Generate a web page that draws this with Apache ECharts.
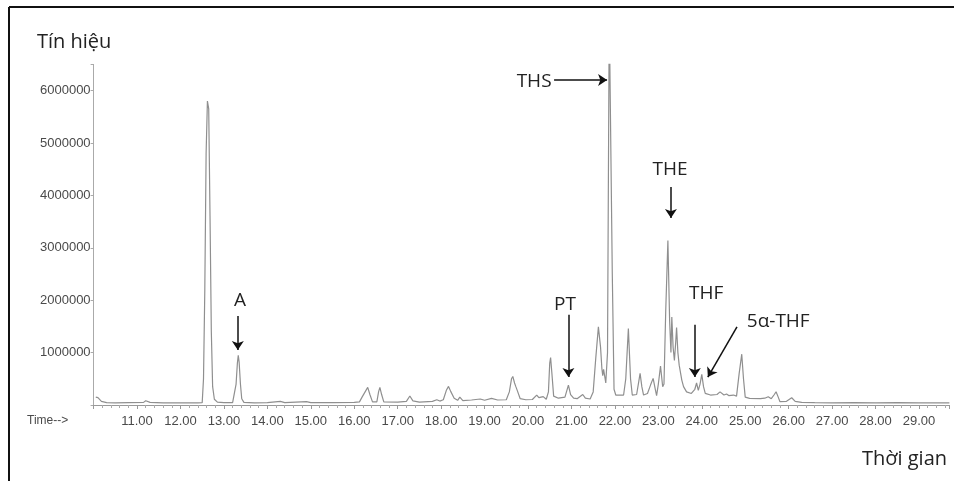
<!DOCTYPE html>
<html><head><meta charset="utf-8">
<script src="https://cdn.jsdelivr.net/npm/echarts@6/dist/echarts.min.js"></script>
<style>html,body{margin:0;padding:0;background:#fff}#c{width:954px;height:481px}</style>
</head><body><div id="c"></div>
<script>
// Retention time (min)
const times = [
 10.05,10.10,10.18,10.30,10.50,10.80,11.15,11.20,11.30,11.60,12.00,12.40,
 12.50,12.53,12.56,12.59,12.62,12.65,12.68,12.71,12.74,12.78,12.85,13.00,
 13.20,13.24,13.28,13.31,13.33,13.35,13.38,13.41,13.46,13.70,14.00,14.30,14.40,14.90,15.00,15.50,
 16.00,16.12,16.18,16.22,16.27,16.31,16.36,16.42,16.52,16.56,16.59,16.63,16.68,
 17.00,17.20,17.28,17.35,17.50,17.80,17.90,17.97,18.05,18.12,18.17,18.22,18.30,18.38,18.43,18.50,
 18.70,18.90,19.00,19.16,19.30,19.50,19.57,19.62,19.65,19.69,19.72,19.76,19.82,19.95,
 20.10,20.20,20.25,20.35,20.42,20.47,20.50,20.52,20.55,20.59,20.70,20.85,20.93,20.98,
 21.05,21.08,21.13,21.26,21.32,21.43,21.50,21.56,21.62,21.67,21.70,21.72,21.74,21.79,21.83,
 21.87,21.90,21.94,21.98,22.02,22.20,22.25,22.31,22.36,22.40,22.50,22.55,22.58,22.62,22.66,
 22.75,22.82,22.88,22.93,22.96,23.00,23.05,23.10,23.13,23.17,23.22,23.26,23.29,23.31,23.34,
 23.37,23.40,23.42,23.45,23.48,23.54,23.58,23.65,23.76,23.84,23.88,23.92,23.96,24.00,24.04,
 24.08,24.20,24.35,24.42,24.46,24.51,24.57,24.62,24.73,24.80,24.86,24.92,24.96,25.00,25.10,
 25.35,25.45,25.53,25.60,25.67,25.71,25.76,25.80,25.95,26.07,26.15,26.30,26.60,27.00,27.50,
 28.00,28.50,29.00,29.70
];
// Detector signal (abundance)
const signal = [
 150000,140000,70000,45000,40000,45000,50000,80000,50000,42000,40000,42000,
 45000,500000,2200000,4800000,5800000,5650000,3600000,1400000,350000,110000,55000,45000,
 45000,80000,400000,800000,950000,820000,400000,120000,50000,42000,45000,70000,45000,65000,45000,45000,
 50000,60000,150000,160000,280000,336000,200000,60000,60000,250000,336000,200000,60000,
 55000,70000,171000,80000,55000,70000,100000,75000,100000,280000,355000,260000,130000,90000,150000,85000,
 95000,114000,90000,127000,95000,100000,250000,500000,545000,420000,350000,260000,120000,100000,
 105000,190000,140000,160000,110000,250000,800000,905000,600000,170000,130000,150000,380000,200000,
 130000,160000,120000,200000,130000,114000,250000,900000,1490000,1100000,700000,560000,680000,420000,1000000,
 7500000,7500000,2500000,300000,190000,190000,500000,1460000,500000,190000,200000,450000,603000,350000,190000,
 220000,380000,508000,300000,180000,400000,741000,348000,400000,1800000,3140000,1600000,1000000,1680000,1100000,
 850000,1200000,1480000,1000000,760000,475000,350000,250000,220000,300000,420000,280000,400000,583000,350000,
 222000,190000,200000,250000,285000,190000,209000,180000,190000,170000,600000,970000,500000,150000,127000,
 120000,130000,158000,120000,200000,253000,150000,63000,70000,139000,70000,50000,45000,42000,45000,
 42000,44000,42000,42000
];
const yTickValues = [1000000,2000000,3000000,4000000,5000000,6000000];
const xTickValues = [11,12,13,14,15,16,17,18,19,20,21,22,23,24,25,26,27,28,29];
// Annotations: text position and arrow (data coordinates)
const annTexts = [
 {text:'A',     t:13.37, v:1985000},
 {text:'PT',    t:20.85, v:1910000},
 {text:'THS',   t:20.14, v:6180000},
 {text:'THE',   t:23.27, v:4485000},
 {text:'THF',   t:24.10, v:2120000},
 {text:'5α-THF',t:25.76, v:1600000}
];
const annArrows = [
 [[13.32,1700000],[13.32,1050000]],
 [[20.93,1720000],[20.93,534000]],
 [[20.60,6200000],[21.82,6200000]],
 [[23.29,4160000],[23.29,3570000]],
 [[23.84,1530000],[23.84,534000]],
 [[24.81,1490000],[24.14,534000]]
];

const chart = echarts.init(document.getElementById('c'), null, {renderer:'canvas'});
const pts = times.map((t,i)=>[t, signal[i]]);
const annFont = '"Open Sans", sans-serif';
chart.setOption({
  animation:false,
  backgroundColor:'#fff',
  grid:{left:93.6, right:4.6, top:64.4, bottom:76},
  xAxis:{
    type:'value', min:10, max:29.7, interval:1,
    axisLine:{lineStyle:{color:'#999', width:1}},
    axisTick:{show:true, length:4, inside:false, lineStyle:{color:'#999'}},
    minorTick:{show:true, splitNumber:5, length:3, lineStyle:{color:'#aaa'}},
    splitLine:{show:false},
    axisLabel:{
      margin:10, color:'#4a4a4a', fontSize:13, fontFamily:'"Liberation Sans", Arial, sans-serif',
      formatter:(v)=> xTickValues.some(x=>Math.abs(x-v)<1e-6) ? v.toFixed(2) : ''
    }
  },
  yAxis:{
    type:'value', min:0, max:6500000, interval:1000000,
    axisLine:{show:true, lineStyle:{color:'#aaa', width:1}},
    axisTick:{show:true, length:3, lineStyle:{color:'#aaa'}},
    splitLine:{show:false},
    axisLabel:{
      margin:3, color:'#4a4a4a', fontSize:13, fontFamily:'"Liberation Sans", Arial, sans-serif',
      formatter:(v)=> yTickValues.indexOf(v)>=0 ? String(v) : ''
    }
  },
  series:[{
    type:'line', data:pts, showSymbol:false, clip:true,
    lineStyle:{color:'#8f8f8f', width:1.2},
    markLine:{
      silent:true, symbol:['none','arrow'], symbolSize:9, animation:false,
      label:{show:false},
      lineStyle:{color:'#111', width:1.5, type:'solid'},
      emphasis:{disabled:true},
      data: annArrows.map(a=>[{coord:a[0]},{coord:a[1]}])
    },
    markPoint:{
      silent:true, symbol:'circle', symbolSize:1, animation:false,
      itemStyle:{color:'rgba(0,0,0,0)'},
      label:{show:true, position:'inside', color:'#222', fontSize:19, fontFamily:annFont},
      data: annTexts.map(a=>({coord:[a.t,a.v], value:a.text, label:{formatter:a.text}}))
    }
  }],
  graphic:[
    {type:'line', shape:{x1:9, y1:7, x2:954, y2:7}, style:{stroke:'#111', lineWidth:2}},
    {type:'line', shape:{x1:9, y1:7, x2:9, y2:481}, style:{stroke:'#111', lineWidth:2}},
    {type:'text', left:37, top:32, style:{text:'Tín hiệu', fill:'#222', fontSize:20, fontFamily:annFont}},
    {type:'text', left:862, top:449, style:{text:'Thời gian', fill:'#222', fontSize:20, fontFamily:annFont}},
    {type:'text', left:27, top:415, style:{text:'Time-->', fill:'#4a4a4a', fontSize:12, fontFamily:'"Liberation Sans", Arial, sans-serif'}}
  ]
});
</script></body></html>
